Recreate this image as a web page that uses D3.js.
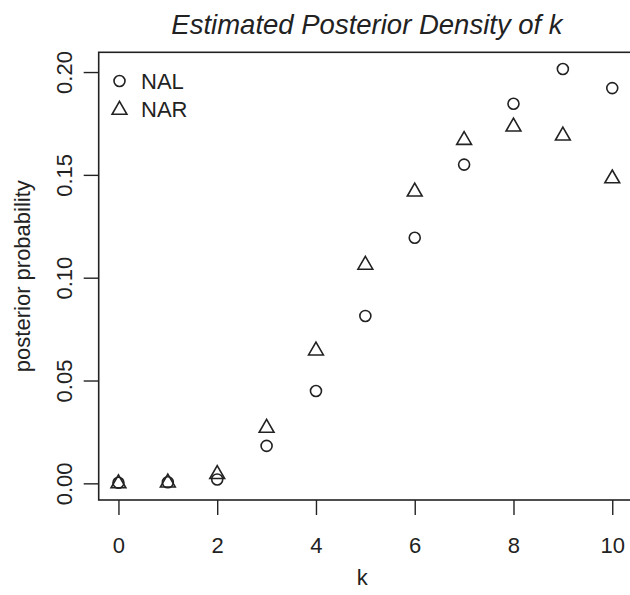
<!DOCTYPE html>
<html>
<head>
<meta charset="utf-8">
<script src="https://cdn.jsdelivr.net/npm/d3@7"></script>
<style>
  body { margin: 0; background: #fff; }
  svg { display: block; font-family: "Liberation Sans", Arial, sans-serif; }
</style>
</head>
<body>
<div id="chart-area"><svg></svg></div>
<script>
const ks = [0, 1, 2, 3, 4, 5, 6, 7, 8, 9, 10];
const nal = [0.0003, 0.0005, 0.0019, 0.0182, 0.0449, 0.0814, 0.1194, 0.1550, 0.1846, 0.2015, 0.1922];
const nar = [0.0004, 0.0008, 0.0049, 0.0274, 0.0650, 0.1067, 0.1423, 0.1674, 0.1739, 0.1695, 0.1487];
const xTicks = [0, 2, 4, 6, 8, 10];
const yTicks = [0, 0.05, 0.1, 0.15, 0.2];
const seriesNames = ["NAL", "NAR"];

const chartSize = { width: 630, height: 595 };
const plot = { left: 98.7, top: 52.3, right: 632, bottom: 500 };

const svg = d3.select("#chart-area svg")
  .attr("width", chartSize.width)
  .attr("height", chartSize.height);

const x = d3.scaleLinear().domain([-0.4, 10.4]).range([plot.left, plot.right]);
const y = d3.scaleLinear().domain([-0.0081, 0.2096]).range([plot.bottom, plot.top]);

const ink = "#222";

// title
svg.append("text")
  .attr("x", 367)
  .attr("y", 34)
  .attr("text-anchor", "middle")
  .attr("font-size", 27.5)
  .attr("font-style", "italic")
  .attr("fill", ink)
  .text("Estimated Posterior Density of k");

// box
svg.append("rect")
  .attr("x", plot.left)
  .attr("y", plot.top)
  .attr("width", plot.right - plot.left)
  .attr("height", plot.bottom - plot.top)
  .attr("fill", "none")
  .attr("stroke", ink)
  .attr("stroke-width", 1.6);

// x axis
const xAxis = d3.axisBottom(x).tickValues(xTicks).tickSize(15).tickPadding(22).tickFormat(d3.format("d"));
const gx = svg.append("g").attr("transform", `translate(0,${plot.bottom})`).call(xAxis);
gx.select(".domain").remove();
gx.selectAll(".tick line").attr("stroke", ink).attr("stroke-width", 1.4);
gx.selectAll(".tick text").attr("font-size", 22).attr("fill", ink).attr("font-family", "Liberation Sans, Arial, sans-serif");

// y axis
const yAxis = d3.axisLeft(y).tickValues(yTicks).tickSize(15).tickFormat(d3.format(".2f"));
const gy = svg.append("g").attr("transform", `translate(${plot.left},0)`).call(yAxis);
gy.select(".domain").remove();
gy.selectAll(".tick line").attr("stroke", ink).attr("stroke-width", 1.4);
gy.selectAll(".tick text")
  .attr("font-size", 22)
  .attr("fill", ink)
  .attr("font-family", "Liberation Sans, Arial, sans-serif")
  .attr("x", null).attr("dy", null)
  .attr("text-anchor", "middle")
  .attr("transform", "translate(-27,0) rotate(-90)");

// axis labels
svg.append("text")
  .attr("x", (plot.left + plot.right) / 2 - 3)
  .attr("y", 585)
  .attr("text-anchor", "middle")
  .attr("font-size", 22)
  .attr("fill", ink)
  .text("k");

svg.append("text")
  .attr("transform", `translate(30,${(plot.top + plot.bottom) / 2}) rotate(-90)`)
  .attr("text-anchor", "middle")
  .attr("font-size", 22)
  .attr("fill", ink)
  .text("posterior probability");

const tri = d3.symbol().type(d3.symbolTriangle).size(95);

// NAL circles
svg.append("g").selectAll("circle")
  .data(ks)
  .join("circle")
  .attr("cx", (d, i) => x(d))
  .attr("cy", (d, i) => y(nal[i]))
  .attr("r", 5.5)
  .attr("fill", "none")
  .attr("stroke", ink)
  .attr("stroke-width", 1.6);

// NAR triangles
svg.append("g").selectAll("path")
  .data(ks)
  .join("path")
  .attr("d", tri)
  .attr("transform", (d, i) => `translate(${x(d)},${y(nar[i]) + 1})`)
  .attr("fill", "none")
  .attr("stroke", ink)
  .attr("stroke-width", 1.6);

// legend
const legend = svg.append("g");
seriesNames.forEach((name, i) => {
  const ly = 81 + i * 28;
  if (i === 0) {
    legend.append("circle").attr("cx", 119.5).attr("cy", ly).attr("r", 5.5)
      .attr("fill", "none").attr("stroke", ink).attr("stroke-width", 1.6);
  } else {
    legend.append("path").attr("d", tri).attr("transform", `translate(119.5,${ly + 1})`)
      .attr("fill", "none").attr("stroke", ink).attr("stroke-width", 1.6);
  }
  legend.append("text").attr("x", 141).attr("y", ly + 8)
    .attr("font-size", 22).attr("fill", ink).text(name);
});
</script>
</body>
</html>
